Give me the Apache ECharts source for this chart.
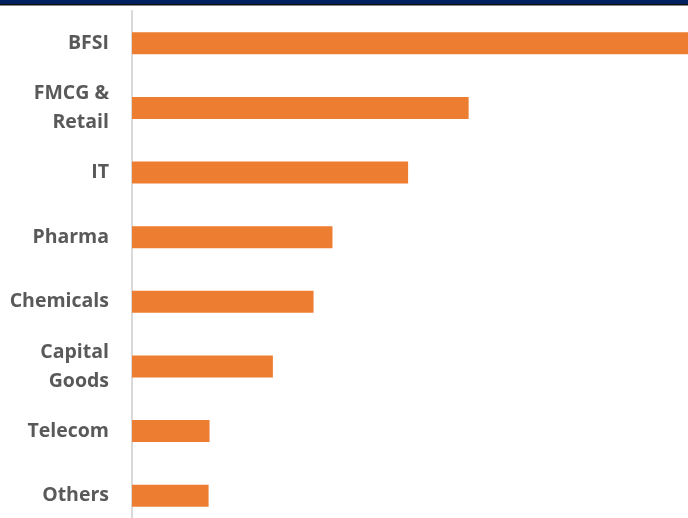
<!DOCTYPE html>
<html><head><meta charset="utf-8">
<script src="https://cdn.jsdelivr.net/npm/echarts@6/dist/echarts.min.js"></script>
<style>html,body{margin:0;padding:0;background:#fff}#c{width:688px;height:518px}</style>
</head><body><div id="c"></div>
<script>
const categories = ['BFSI', 'FMCG &\nRetail', 'IT', 'Pharma', 'Chemicals', 'Capital\nGoods', 'Telecom', 'Others'];
const values = [31.7, 17.8, 14.6, 10.6, 9.6, 7.45, 4.1, 4.05];
const chart = echarts.init(document.getElementById('c'));
chart.setOption({
  animation: false,
  grid: { left: 132, right: 0, top: 11, height: 517, outerBoundsMode: 'none', containLabel: false },
  graphic: [
    { type: 'rect', shape: { x: 0, y: 0, width: 688, height: 4 }, style: { fill: '#002060' } },
    { type: 'rect', shape: { x: 0, y: 4, width: 688, height: 1.5 }, style: { fill: '#111' } }
  ],
  xAxis: { type: 'value', min: 0, max: 29.4, show: false, splitLine: { show: false } },
  yAxis: {
    type: 'category', data: categories, inverse: true,
    axisLine: { lineStyle: { color: '#d9d9d9', width: 2 } },
    axisTick: { show: false },
    axisLabel: { margin: 23, color: '#595959', fontFamily: 'Open Sans', fontWeight: 'bold', fontSize: 19.5, lineHeight: 29, align: 'right' }
  },
  series: [{ type: 'bar', data: values, barWidth: 22, itemStyle: { color: '#ED7D31' }, clip: true }]
});
</script></body></html>
